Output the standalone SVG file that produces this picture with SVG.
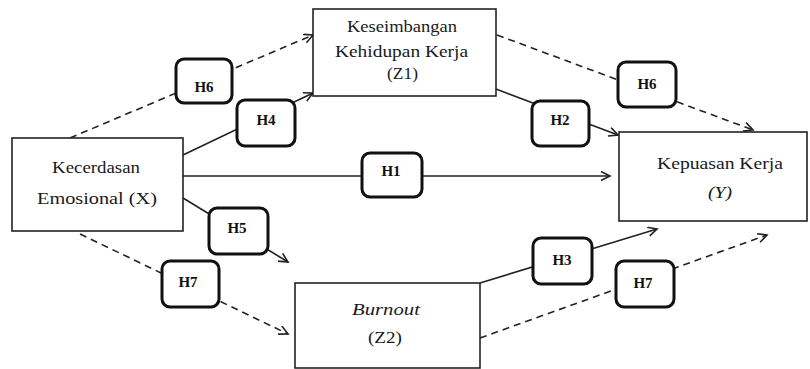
<svg xmlns="http://www.w3.org/2000/svg" width="810" height="369" viewBox="0 0 810 369">
<style>
.node{fill:#fff;stroke:#222;stroke-width:1.6}
.nt{font-family:"Liberation Serif","Times New Roman",serif;font-size:17px;fill:#1a1a1a;text-anchor:middle}
.lab rect{fill:#fff;stroke:#111;stroke-width:3}
.lab text{font-family:"Liberation Serif","Times New Roman",serif;font-size:15px;font-weight:bold;fill:#111;text-anchor:middle}
.c{stroke:#222;stroke-width:1.6;fill:none}
.d{stroke-dasharray:7 5}
</style>
<defs>
<marker id="ah" markerUnits="userSpaceOnUse" markerWidth="12" markerHeight="12" refX="10" refY="5" orient="auto">
<path d="M1,0.5 L10,5 L1,9.5" fill="none" stroke="#222" stroke-width="1.6"/>
</marker>
</defs>
<g id="connectors">
<line class="c d" x1="70" y1="138" x2="313" y2="35" marker-end="url(#ah)"/>
<line class="c" x1="183" y1="155" x2="313" y2="93" marker-end="url(#ah)"/>
<line class="c" x1="183" y1="176" x2="610" y2="176" marker-end="url(#ah)"/>
<line class="c d" x1="497" y1="35" x2="753" y2="130" marker-end="url(#ah)"/>
<line class="c" x1="496" y1="89" x2="618" y2="135" marker-end="url(#ah)"/>
<line class="c" x1="183" y1="198" x2="288" y2="262" marker-end="url(#ah)"/>
<line class="c d" x1="80" y1="234" x2="288" y2="334" marker-end="url(#ah)"/>
<line class="c" x1="480" y1="283" x2="657" y2="229" marker-end="url(#ah)"/>
<line class="c d" x1="480" y1="338" x2="767" y2="235" marker-end="url(#ah)"/>
</g>
<g id="nodeX">
<rect class="node" x="12" y="138" width="171" height="93"/>
<text class="nt" x="96" y="173" textLength="88" lengthAdjust="spacingAndGlyphs">Kecerdasan</text>
<text class="nt" x="97" y="204" textLength="120" lengthAdjust="spacingAndGlyphs">Emosional (X)</text>
</g>
<g id="nodeZ1">
<rect class="node" x="313" y="9" width="183" height="87"/>
<text class="nt" x="402" y="32" textLength="110" lengthAdjust="spacingAndGlyphs">Keseimbangan</text>
<text class="nt" x="401.5" y="57" textLength="133" lengthAdjust="spacingAndGlyphs">Kehidupan Kerja</text>
<text class="nt" x="402.5" y="79" textLength="31" lengthAdjust="spacingAndGlyphs">(Z1)</text>
</g>
<g id="nodeY">
<rect class="node" x="619" y="132" width="188" height="89"/>
<text class="nt" x="720" y="169" textLength="126" lengthAdjust="spacingAndGlyphs">Kepuasan Kerja</text>
<text class="nt" x="720" y="198" font-style="italic" textLength="24" lengthAdjust="spacingAndGlyphs">(Y)</text>
</g>
<g id="nodeZ2">
<rect class="node" x="295" y="283" width="185" height="85"/>
<text class="nt" x="386" y="315" font-style="italic" textLength="68" lengthAdjust="spacingAndGlyphs">Burnout</text>
<text class="nt" x="385" y="343" textLength="34" lengthAdjust="spacingAndGlyphs">(Z2)</text>
</g>
<g id="labelH6a" class="lab"><rect x="176" y="59" width="56" height="44" rx="8"/><text x="204" y="92">H6</text></g>
<g id="labelH4" class="lab"><rect x="237" y="100" width="58" height="46" rx="8"/><text x="266" y="125">H4</text></g>
<g id="labelH1" class="lab"><rect x="362" y="153" width="60" height="44" rx="8"/><text x="391" y="176">H1</text></g>
<g id="labelH2" class="lab"><rect x="532" y="101" width="57" height="45" rx="8"/><text x="560" y="125">H2</text></g>
<g id="labelH6b" class="lab"><rect x="618" y="62" width="58" height="45" rx="8"/><text x="647" y="89">H6</text></g>
<g id="labelH5" class="lab"><rect x="209" y="208" width="59" height="46" rx="8"/><text x="237" y="233">H5</text></g>
<g id="labelH7a" class="lab"><rect x="162" y="261" width="57" height="46" rx="8"/><text x="188" y="287">H7</text></g>
<g id="labelH3" class="lab"><rect x="533" y="238" width="59" height="46" rx="8"/><text x="562" y="265">H3</text></g>
<g id="labelH7b" class="lab"><rect x="616" y="261" width="58" height="46" rx="8"/><text x="643" y="288">H7</text></g>
</svg>
